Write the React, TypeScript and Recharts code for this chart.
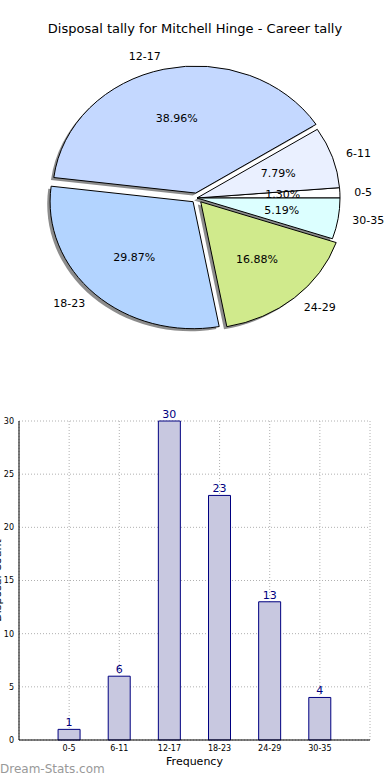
import React from 'react';
import { PieChart, Pie, Cell, BarChart, Bar, XAxis, YAxis, CartesianGrid, LabelList } from 'recharts';

const categories = ['0-5', '6-11', '12-17', '18-23', '24-29', '30-35'];
const counts = [1, 6, 30, 23, 13, 4];
const sliceColors = ['#ffffff', '#eaf0ff', '#c4d8ff', '#b3d4ff', '#d0ea8c', '#dcffff'];
const explode = [0, 0, 0.04, 0.04, 0.04, 0];
const yTicks = [0, 5, 10, 15, 20, 25, 30];

const FONT = '"DejaVu Sans", sans-serif';
const ASPECT = 143 / 127; // matplotlib pie drawn in non-square axes -> ellipse

const pieData = categories.map((c, i) => ({ name: c, value: counts[i], idx: i }));
const barData = categories.map((c, i) => ({ pos: i, label: c, count: counts[i] }));

function pt(cx: number, cy: number, r: number, deg: number): [number, number] {
  const a = (deg * Math.PI) / 180;
  return [cx + r * ASPECT * Math.cos(a), cy - r * Math.sin(a)];
}

function wedgePath(cx: number, cy: number, r: number, start: number, end: number) {
  const [x1, y1] = pt(cx, cy, r, start);
  const [x2, y2] = pt(cx, cy, r, end);
  const large = Math.abs(end - start) > 180 ? 1 : 0;
  return `M${cx},${cy} L${x1},${y1} A${r * ASPECT},${r} 0 ${large} 0 ${x2},${y2} Z`;
}

function shifted(props: any) {
  const idx = props.payload?.idx ?? props.idx ?? 0;
  const [ox, oy] = pt(props.cx, props.cy, props.outerRadius * explode[idx], props.midAngle);
  return { idx, ox, oy };
}

function Wedge(props: any) {
  const { idx, ox, oy } = shifted(props);
  return (
    <path
      d={wedgePath(ox, oy, props.outerRadius, props.startAngle, props.endAngle)}
      fill={sliceColors[idx]}
      stroke="#000"
      strokeWidth={1}
    />
  );
}

function ShadowWedge(props: any) {
  const { ox, oy } = shifted(props);
  const r = props.outerRadius;
  return (
    <path
      d={wedgePath(ox - 0.02 * r * ASPECT, oy + 0.02 * r, r, props.startAngle, props.endAngle)}
      fill="#000"
      fillOpacity={0.45}
      stroke="none"
    />
  );
}

function SliceLabel(props: any) {
  const { idx, ox, oy } = shifted(props);
  const r = props.outerRadius;
  const [px, py] = pt(ox, oy, r * 0.6, props.midAngle);
  const [lx, ly] = pt(ox, oy, r * 1.1, props.midAngle);
  const right = Math.cos((props.midAngle * Math.PI) / 180) > 0;
  return (
    <g fontFamily={FONT} fontSize={11} fill="#000">
      <text x={px} y={py} textAnchor="middle" dominantBaseline="central">
        {(props.percent * 100).toFixed(2)}%
      </text>
      <text x={lx} y={ly} textAnchor={right ? 'start' : 'end'} dominantBaseline="central">
        {categories[idx]}
      </text>
    </g>
  );
}

export default function App() {
  return (
    <div style={{ position: 'absolute', left: 0, top: 0, width: 390, height: 780, background: '#fff', overflow: 'hidden', fontFamily: FONT }}>
      <div style={{ position: 'absolute', top: 21, left: 0, width: 390, textAlign: 'center', fontSize: 13, color: '#000' }}>
        Disposal tally for Mitchell Hinge - Career tally
      </div>

      <div style={{ position: 'absolute', top: 0, left: 0 }}>
        <PieChart width={390} height={390} margin={{ top: 0, right: 0, bottom: 0, left: 0 }}>
          <Pie
            data={pieData}
            dataKey="value"
            cx={197}
            cy={198}
            outerRadius={127}
            startAngle={0}
            endAngle={360}
            shape={ShadowWedge}
            isAnimationActive={false}
          />
          <Pie
            data={pieData}
            dataKey="value"
            cx={197}
            cy={198}
            outerRadius={127}
            startAngle={0}
            endAngle={360}
            shape={Wedge}
            label={SliceLabel}
            labelLine={false}
            isAnimationActive={false}
          >
            {pieData.map((d, i) => (
              <Cell key={d.name} fill={sliceColors[i]} />
            ))}
          </Pie>
        </PieChart>
      </div>

      <div style={{ position: 'absolute', top: 400, left: 0 }}>
        <BarChart width={390} height={380} data={barData} margin={{ top: 21, right: 20, bottom: 10, left: 0 }}>
          <CartesianGrid stroke="#b0b0b0" strokeDasharray="1 2" />
          <XAxis
            dataKey="pos"
            type="number"
            domain={[-1, 6]}
            ticks={[0, 1, 2, 3, 4, 5]}
            tickFormatter={(v: number) => categories[v] ?? ''}
            tick={{ fontSize: 8, fill: '#000', fontFamily: FONT }}
            tickLine={false}
            tickSize={3}
            tickMargin={2}
            height={30}
            axisLine={{ stroke: '#000' }}
            label={{ value: 'Frequency', position: 'insideBottom', offset: 5, fontSize: 11, fill: '#000', fontFamily: FONT }}
          />
          <XAxis xAxisId="top" orientation="top" type="number" domain={[-1, 6]} tick={false} tickLine={false} height={0} axisLine={{ stroke: '#000' }} />
          <YAxis
            domain={[0, 30]}
            ticks={yTicks}
            tick={{ fontSize: 8, fill: '#000', fontFamily: FONT }}
            tickLine={false}
            tickSize={3}
            tickMargin={2}
            width={19}
            axisLine={{ stroke: '#000' }}
            label={{ value: 'Disposal Count', angle: -90, position: 'insideLeft', offset: -3, fontSize: 11, fill: '#000', fontFamily: FONT, style: { textAnchor: 'middle' } }}
          />
          <YAxis yAxisId="right" orientation="right" domain={[0, 30]} tick={false} tickLine={false} width={0} axisLine={{ stroke: '#000' }} />
          <Bar dataKey="count" barSize={22} fill="#c8c8e0" stroke="#000080" strokeWidth={1} isAnimationActive={false}>
            <LabelList dataKey="count" position="top" offset={3} fill="#000080" fontSize={11} fontFamily={FONT} />
          </Bar>
        </BarChart>
      </div>

      <div style={{ position: 'absolute', top: 762, left: 0, fontSize: 12, color: '#999', fontFamily: FONT }}>
        Dream-Stats.com
      </div>
    </div>
  );
}
